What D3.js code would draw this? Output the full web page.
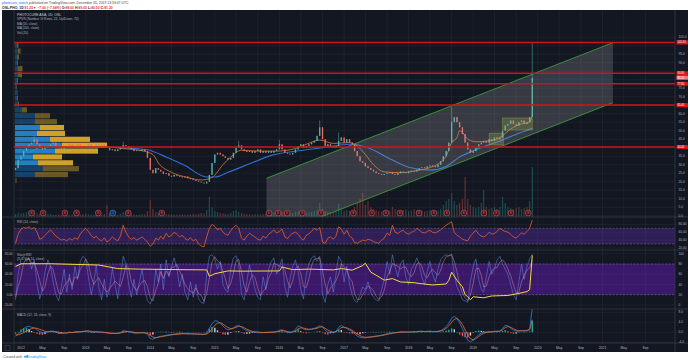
<!DOCTYPE html>
<html><head><meta charset="utf-8">
<script src="https://cdn.jsdelivr.net/npm/d3@7"></script>
<style>
html,body{margin:0;padding:0;background:#fff;}
svg{display:block;font-family:"Liberation Sans",Arial,sans-serif;}
</style></head><body>
<svg id="c" width="690" height="360"></svg>
<script>
// ---------------- DATA (semi-monthly bars, Dec 2011 .. Dec 2019) ----------------
const startYear = 2011, startMonth = 11;   // first bar: 1 Dec 2011, then 16th / 1st alternately
const firstOpen = 27;
const closes = [
28,33,35,38,40,42,43,45,42,40,
39,40,41,42,43,41,40,39,40,41,
42,40,41,42,41,40,41,42,40,41,
42,41,42,41,40,38.5,39,38,39,40,
41.5,41,40,39,38,38.5,38,39,38,34,
27,25,28,27,26,24.5,25,23.5,23,24,
23.5,23,22.5,23,22,21.5,21,20.5,20,19.5,
19,20,24,31,36,37,36,35,34,33,
34,37,40,41.5,39,38,37.5,38,37,38,
39,37,38,37,38,37,38,39,42,39,
37,36.5,36,37,39,41,42,40,41,42,
43,44,47,52,45,41,42,41,40,41,
44,46,43,45,43,42,38,35,32,31,
29,28,27,26,25,24.5,24,24.5,25,25.5,
24.5,24,25,26,25.5,25,26,26.5,26,27,
28,28.5,28,29,29.5,29,28.5,30,32,35,
38,43,55,58,55,52,48,43,39,37,
38,40,42,43,44,43,45,44,46,45,
46,50,53,54,56,54,53,55,56,54,
55,58,81];
const spikeIdx  = [7, 40, 83, 98, 113, 120, 162, 192];
const spikeHigh = [47, 43.5, 44, 44.5, 56, 49, 64, 102];

const volumeK = [
150,220,180,200,250,300,200,350,220,150,
120,130,160,140,120,110,130,100,90,110,
100,120,90,110,130,150,180,140,120,100,
110,130,120,150,600,200,140,120,110,160,
250,180,130,120,110,100,120,130,150,300,
850,400,250,200,180,160,150,140,130,120,
120,110,130,120,110,130,150,140,160,200,
180,350,1000,500,300,250,200,180,160,150,
200,300,350,250,200,160,150,140,130,150,
140,130,150,160,140,180,200,220,350,250,
180,160,170,200,260,300,250,200,220,240,
260,300,350,700,400,300,260,250,240,300,
650,400,300,350,300,280,500,700,900,1200,
600,800,500,400,350,300,280,300,350,320,
500,400,320,300,350,380,300,320,400,350,
300,320,280,300,350,300,280,320,400,600,
800,900,1200,800,600,700,900,2000,900,600,
500,450,500,700,1350,500,400,450,500,400,
500,1000,700,500,450,400,450,500,400,450,
500,800,2500];

const ma50Idx = [5,10,15,20,25,30,35,40,46,51,53,58,64,69,73,77,80,84,90,97,104,108,113,118,124,127,130,133,137,143,148,154,158,160,162,164,165,166,168,171,176,180,184,188,191,192];
const ma50Val = [37,40.5,41,40.5,41,41,40.5,39.5,38.5,36,31,25.5,22.5,21,22.5,30,34.5,38.5,38,38,39.5,42,44.5,42.5,43,41,36,30,25.8,25.3,26.3,28.3,31.5,35,43,46,50,49,45,43.5,44,46,51,54,55,59];
const ma200Idx = [19,25,34,44,49,56,63,71,74,79,87,95,105,114,124,131,139,146,154,160,165,172,180,187,192];
const ma200Val = [40.5,40.6,40.3,39.5,38.8,34.5,29.5,22.8,22.8,25.5,30.5,35.5,38.2,40,42,40,33.5,28.5,26.8,29,34.5,39.5,44,48.5,51.5];

// Volume profile, 24 rows from the lowest to the highest price (thousand shares)
const vpRange = [19, 102];
const vpUp   = [10,200,280,230,180,400,470,350,220,250,200,200,70,30,20,20,15,20,30,25,20,20,30,20];
const vpDown = [5,330,360,350,290,430,450,400,280,240,220,150,50,10,10,5,5,10,40,50,10,20,25,15];
const vpValueArea = [3, 9], vpPoc = 6;

const hLevels = [101.95, 83.80, 77.60, 65.05, 40.40];
const lastPrice = 81.20;

const channelDates = ["2015-10-20", "2021-03-01"];
const channelUpper = [22.0, 101.8];
const channelWidth = 35.3;

const boxDates  = [["2019-04-01","2019-06-20"], ["2019-06-15","2019-12-01"]];
const boxPrices = [[41.6, 48.6], [50.4, 57.5]];

const earningsDates = ["2012-03-01","2012-05-05","2012-09-05","2012-11-10","2013-03-13","2013-08-30","2014-03-07",
 "2015-11-04","2015-12-25","2016-02-14","2016-05-09","2016-08-23","2017-02-22","2017-06-06","2017-08-25","2017-11-12",
 "2018-03-01","2018-05-23","2018-08-05","2018-11-09","2019-03-02","2019-05-12","2019-08-02","2019-11-08"];
const dividendDates = ["2013-06-03"];

const rsi = [
32,55,68,72,70,74,68,72,60,42,
45,52,60,66,58,50,45,40,42,38,
44,40,46,42,55,64,70,62,52,45,
50,42,38,46,35,40,48,42,38,50,
78,60,48,42,46,40,44,48,42,35,
24,30,45,40,50,42,57,48,52,60,
55,48,52,44,40,46,38,42,30,25,
23,48,70,80,75,66,70,60,55,52,
64,72,78,70,45,40,50,57,52,48,
42,40,50,45,55,60,66,58,62,68,
48,44,52,57,60,55,45,40,52,56,
62,70,65,72,35,32,45,48,42,50,
74,68,55,65,50,45,34,32,36,40,
38,42,40,36,34,32,40,45,58,52,
78,60,57,62,65,58,55,60,62,70,
66,60,58,62,65,60,58,62,66,72,
78,82,87,60,52,48,42,40,38,50,
58,65,55,50,48,52,60,55,57,62,
70,65,62,60,55,48,45,52,58,55,
62,70,91];

const stochK = [
10,60,90,95,85,92,70,88,40,12,30,65,88,75,45,20,8,35,70,25,
60,30,75,50,85,95,90,55,20,45,78,35,10,50,15,30,72,40,12,55,
95,80,40,15,50,20,45,70,30,8,2,15,70,45,80,30,88,55,75,92,
70,35,60,25,10,45,15,40,12,5,3,60,95,98,90,70,85,40,30,25,
70,92,96,80,20,10,45,78,55,30,15,10,55,30,70,85,92,60,75,90,
35,15,50,75,88,65,30,12,60,80,92,96,85,95,20,5,40,55,25,60,
95,85,45,75,40,20,8,5,20,35,30,45,25,15,10,8,30,50,85,60,
98,75,55,80,88,55,40,70,78,92,80,55,40,65,85,60,45,70,88,95,
98,96,99,60,35,25,10,8,5,45,75,90,50,30,25,55,85,60,70,88,
95,80,70,60,40,20,10,45,80,50,75,90,99];
const stochD = [
15,35,55,82,90,90,82,83,66,47,27,36,61,76,69,47,24,21,38,43,
52,38,55,52,70,77,90,80,55,40,48,53,41,32,25,32,39,47,41,36,
54,77,72,45,35,28,38,45,48,36,13,8,29,43,65,52,66,58,73,74,
79,66,55,40,32,27,23,33,22,19,7,23,53,84,94,86,82,65,52,32,
42,62,86,89,65,37,25,44,59,54,33,18,27,32,52,62,82,79,76,75,
67,47,33,47,71,76,61,36,34,51,77,89,91,92,67,40,22,33,40,47,
60,80,75,68,53,45,23,11,11,20,28,37,33,28,17,11,16,29,55,65,
81,78,76,70,74,74,61,55,63,80,83,76,58,53,63,70,63,58,68,84,
94,96,98,85,65,40,23,14,8,19,42,70,72,57,35,37,55,67,72,73,
84,88,82,70,57,40,23,25,45,58,68,72,88];

// yellow oscillator drawn against the left scale of the Stoch pane
const yellowIdx = [0,2,13,31,35,38,46,61,71,72,74,79,84,98,99,103,109,118,121,125,129,130,132,134,137,140,143,148,150,155,160,161,162,164,166,167,168,169,170,174,177,183,187,190,191,192];
const yellowVal = [55,60.5,60.5,58,54,51,50,49,48.5,36,41,46.5,46,46.5,54,49,50,48.5,51,48,57,61.5,44,38,28.5,31.5,25,23.5,22,19,21,28,44,28,15.5,0,-4,-10,-4,-6,-2.5,-1.5,2.5,6,10,77];

const macd = [
-1.5,-0.8,0.5,1.5,2.2,2.4,2.0,1.8,1.0,0.3,
-0.2,-0.3,0.2,0.5,0.4,0.0,-0.4,-0.5,-0.3,-0.2,
0.1,-0.1,0.2,0.3,0.2,0.4,0.6,0.5,0.1,0.0,
0.2,0.1,0.0,-0.1,-0.3,-0.5,-0.4,-0.5,-0.4,-0.1,
0.6,0.5,0.2,0.0,-0.3,-0.3,-0.2,-0.1,-0.2,-0.8,
-2.5,-2.8,-2.2,-1.8,-1.6,-1.4,-1.2,-1.0,-0.9,-0.7,
-0.6,-0.5,-0.5,-0.5,-0.6,-0.6,-0.7,-0.7,-0.8,-0.8,
-0.8,-0.4,1.5,3.5,4.6,4.5,3.6,2.5,1.6,1.0,
1.2,1.8,2.5,2.8,2.0,1.2,0.6,0.3,0.1,0.0,
0.0,-0.2,-0.1,0.0,0.0,0.1,0.1,0.3,0.8,1.0,
0.4,0.0,-0.2,0.2,1.2,2.6,2.2,1.4,1.0,1.1,
1.3,1.6,2.0,2.6,2.2,0.8,0.0,0.0,-0.2,0.4,
2.0,2.8,2.0,1.5,0.8,0.4,-0.6,-1.5,-2.0,-2.2,
-2.2,-2.0,-1.8,-1.6,-1.5,-1.3,-1.1,-0.9,-0.6,-0.4,
-0.2,-0.1,0.0,0.2,0.2,0.1,0.1,0.2,0.2,0.3,
0.4,0.4,0.3,0.4,0.4,0.3,0.3,0.4,0.7,1.3,
2.3,3.6,5.6,6.4,5.6,3.8,1.5,-1.0,-3.2,-3.8,
-3.2,-2.0,-1.0,-0.3,0.0,0.1,0.3,0.2,0.4,0.4,
0.5,1.5,2.8,2.6,1.6,0.8,0.4,0.5,0.7,0.6,
0.7,1.4,9.6];
const signal = [
-1.0,-1.0,-0.6,-0.1,0.5,1.1,1.5,1.7,1.6,1.2,
0.8,0.4,0.2,0.3,0.4,0.3,0.1,-0.2,-0.3,-0.3,
-0.1,-0.1,0.0,0.1,0.2,0.3,0.4,0.5,0.4,0.2,
0.2,0.1,0.1,0.0,-0.1,-0.3,-0.4,-0.4,-0.4,-0.3,
0.0,0.3,0.3,0.2,0.0,-0.2,-0.2,-0.2,-0.2,-0.4,
-1.2,-1.9,-2.2,-2.0,-1.8,-1.6,-1.4,-1.2,-1.0,-0.9,
-0.8,-0.7,-0.6,-0.6,-0.6,-0.6,-0.6,-0.7,-0.7,-0.8,
-0.8,-0.7,0.0,1.4,2.8,3.7,3.8,3.3,2.6,1.9,
1.5,1.6,2.0,2.4,2.3,1.8,1.2,0.8,0.4,0.2,
0.1,0.0,-0.1,-0.1,0.0,0.0,0.1,0.2,0.4,0.7,
0.6,0.3,0.1,0.1,0.5,1.4,1.8,1.7,1.4,1.2,
1.2,1.4,1.6,2.1,2.2,1.6,0.9,0.4,0.1,0.2,
1.0,1.9,2.0,1.8,1.3,0.8,0.1,-0.7,-1.3,-1.8,
-2.0,-2.0,-1.9,-1.8,-1.6,-1.5,-1.3,-1.1,-0.8,-0.6,
-0.4,-0.2,-0.1,0.0,0.1,0.1,0.1,0.1,0.2,0.2,
0.3,0.4,0.3,0.3,0.4,0.3,0.3,0.3,0.5,0.9,
1.6,2.6,4.0,5.2,5.5,4.7,3.1,1.0,-1.1,-2.5,
-3.0,-2.5,-1.7,-0.9,-0.4,-0.1,0.1,0.2,0.3,0.4,
0.4,1.0,1.9,2.3,2.0,1.4,0.9,0.6,0.6,0.6,
0.6,1.0,5.0];

// tick labels
const priceTicks = d3.range(0, 106, 5);
const rsiTicks = [80, 60, 40, 20];
const stochTicks = [100, 80, 60, 40, 20, 0];
const stochLeftTicks = [80, 60, 40, 20, 0, -20];
const macdTicks = [8, 4, 0, -4];
const tickYears = d3.range(2012, 2022);
const tickMonths = [["May", 4], ["Sep", 8]];

const headerUser = "photocure_watch";
const headerText = " published on TradingView.com, December 05, 2019 13:33:07 UTC";
const symbolLine = ["OSL:PHO, 1D ", "81.20\u25BC \u22127.00 (\u22127.94%) ", "O:", "88.00 ", "H:", "89.00 ", "L:", "80.50 ", "C:", "81.20"];
const mainLegend = ["PHOTOCURE ASA, 1D, OSL", "VPVR (Number Of Rows, 24, Up/Down, 70)", "MA (50, close)", "MA (200, close)", "Vol (20)"];

// ---------------- LAYOUT ----------------
const W = 690, H = 360, PL = 14, PR = 675;
const pMain = [10, 217], pRsi = [217, 250], pSt = [250, 309], pMacd = [309, 343];
const bg = "#131722", txt = "#b2b5be", gridC = "rgba(255,255,255,0.055)", sepC = "#363a45";
const svg = d3.select("#c");
svg.append("rect").attr("width", W).attr("height", H).attr("fill", "#fff");
svg.append("rect").attr("x", 2).attr("y", 10).attr("width", 686).attr("height", 342).attr("fill", bg);

const dates = closes.map((c, i) => new Date(startYear, startMonth + Math.floor(i / 2), i % 2 ? 16 : 1));
const x = d3.scaleTime().domain([new Date(2012, 0, 1), new Date(2021, 0, 1)]).range([21, 602.5]);
const yP = d3.scaleLinear().domain([0, 100]).range([215.7, 45.7]);
const yVol = d3.scaleLinear().domain([0, 2500]).range([217, 167]);
const yR = d3.scaleLinear().domain([30, 70]).range([244, 228.3]);
const yS = d3.scaleLinear().domain([20, 80]).range([294.7, 264]);
const yL = d3.scaleLinear().domain([0, 60]).range([294.7, 264]);
const yM = d3.scaleLinear().domain([0, 4]).range([332.3, 322.3]);
const pd = s => new Date(s + "T00:00:00");

const defs = svg.append("defs");
function clip(id, y0, y1) {
  defs.append("clipPath").attr("id", id).append("rect").attr("x", PL).attr("y", y0).attr("width", PR - PL).attr("height", y1 - y0);
  return svg.append("g").attr("clip-path", `url(#${id})`);
}

// grid
const gGrid = svg.append("g");
const xTickList = [];
tickYears.forEach(yv => {
  xTickList.push([String(yv), new Date(yv, 0, 1)]);
  tickMonths.forEach(([lab, m]) => xTickList.push([lab, new Date(yv, m, 1)]));
});
xTickList.forEach(([lab, d]) => {
  const xx = x(d);
  if (xx < PL || xx > PR) return;
  gGrid.append("line").attr("x1", xx).attr("x2", xx).attr("y1", 10).attr("y2", 343).attr("stroke", gridC).attr("stroke-width", 0.8);
  svg.append("text").attr("x", xx).attr("y", 349.2).attr("text-anchor", "middle").attr("font-size", 3.4).attr("fill", txt).text(lab);
});
priceTicks.forEach(v => gGrid.append("line").attr("x1", PL).attr("x2", PR).attr("y1", yP(v)).attr("y2", yP(v)).attr("stroke", gridC).attr("stroke-width", 0.8));
rsiTicks.forEach(v => gGrid.append("line").attr("x1", PL).attr("x2", PR).attr("y1", yR(v)).attr("y2", yR(v)).attr("stroke", gridC).attr("stroke-width", 0.8));
stochTicks.forEach(v => gGrid.append("line").attr("x1", PL).attr("x2", PR).attr("y1", yS(v)).attr("y2", yS(v)).attr("stroke", gridC).attr("stroke-width", 0.8));
macdTicks.forEach(v => gGrid.append("line").attr("x1", PL).attr("x2", PR).attr("y1", yM(v)).attr("y2", yM(v)).attr("stroke", gridC).attr("stroke-width", 0.8));

// ---------------- MAIN PANE ----------------
const gM = clip("cm", pMain[0], pMain[1]);
const opens = closes.map((c, i) => i ? closes[i - 1] : firstOpen);
const bw = 1.3;
// volume
gM.selectAll(".vol").data(volumeK).join("rect")
  .attr("x", (d, i) => x(dates[i]) - 0.6).attr("width", 1.2)
  .attr("y", d => yVol(d)).attr("height", d => 217 - yVol(d))
  .attr("fill", (d, i) => closes[i] >= opens[i] ? "rgba(38,166,154,0.38)" : "rgba(239,83,80,0.38)");

// moving averages
const maLine = (idx) => d3.line().x((d, k) => x(dates[idx[k]])).y(d => yP(d)).curve(d3.curveMonotoneX);
gM.append("path").attr("d", maLine(ma200Idx)(ma200Val)).attr("fill", "none").attr("stroke", "#2e6fd6").attr("stroke-width", 1.1);
gM.append("path").attr("d", maLine(ma50Idx)(ma50Val)).attr("fill", "none").attr("stroke", "#c8702e").attr("stroke-width", 0.9);

// volume profile
const rowH = (yP(vpRange[0]) - yP(vpRange[1])) / vpUp.length;
const vpRowPrice = d3.scaleLinear().domain([0, vpUp.length]).range(vpRange);
const vw = d3.scaleLinear().domain([0, 920]).range([0, 92]);
const vpX0 = 15;
vpUp.forEach((u, r) => {
  const inVA = r >= vpValueArea[0] && r <= vpValueArea[1];
  const y1 = yP(vpRowPrice(r + 1)) + 0.35;
  const h = rowH - 0.7;
  gM.append("rect").attr("x", vpX0).attr("y", y1).attr("width", vw(u)).attr("height", h)
    .attr("fill", inVA ? "rgba(38,150,228,0.82)" : "rgba(33,150,243,0.33)");
  gM.append("rect").attr("x", vpX0 + vw(u)).attr("y", y1).attr("width", vw(vpDown[r])).attr("height", h)
    .attr("fill", r === vpPoc ? "rgba(255,170,20,0.92)" : inVA ? "rgba(240,186,45,0.85)" : "rgba(251,192,45,0.38)");
});

// candles
const gC = gM.append("g");
closes.forEach((c, i) => {
  const o = opens[i];
  const k = spikeIdx.indexOf(i);
  const hi = Math.max(o, c, k >= 0 ? spikeHigh[k] : 0);
  const lo = Math.min(o, c);
  const up = c >= o;
  const col = up ? "#4db6a8" : "#ef6a66";
  const xx = x(dates[i]);
  gC.append("line").attr("x1", xx).attr("x2", xx).attr("y1", yP(hi)).attr("y2", yP(lo)).attr("stroke", col).attr("stroke-width", 0.5);
  const yt = yP(Math.max(o, c)), yb = yP(Math.min(o, c));
  gC.append("rect").attr("x", xx - bw / 2).attr("width", bw).attr("y", yt).attr("height", Math.max(0.6, yb - yt)).attr("fill", col);
});

// parallel channel
const cx0 = x(pd(channelDates[0])), cx1 = x(pd(channelDates[1]));
const chPoly = [[cx0, yP(channelUpper[0])], [cx1, yP(channelUpper[1])], [cx1, yP(channelUpper[1] - channelWidth)], [cx0, yP(channelUpper[0] - channelWidth)]];
gM.append("path").attr("d", d3.line()(chPoly) + "Z").attr("fill", "rgba(170,170,170,0.24)");
gM.append("line").attr("x1", chPoly[0][0]).attr("y1", chPoly[0][1]).attr("x2", chPoly[1][0]).attr("y2", chPoly[1][1]).attr("stroke", "#3d9a3d").attr("stroke-width", 0.9);
gM.append("line").attr("x1", chPoly[3][0]).attr("y1", chPoly[3][1]).attr("x2", chPoly[2][0]).attr("y2", chPoly[2][1]).attr("stroke", "#3d9a3d").attr("stroke-width", 0.9);

// rectangles
boxDates.forEach((bd, k) => {
  const x0 = x(pd(bd[0])), x1 = x(pd(bd[1]));
  gM.append("rect").attr("x", x0).attr("y", yP(boxPrices[k][1])).attr("width", x1 - x0).attr("height", yP(boxPrices[k][0]) - yP(boxPrices[k][1]))
    .attr("fill", "rgba(160,175,90,0.28)").attr("stroke", "rgba(150,180,60,0.7)").attr("stroke-width", 0.5);
});

// horizontal levels
hLevels.forEach(v => {
  gM.append("line").attr("x1", PL).attr("x2", PR).attr("y1", yP(v)).attr("y2", yP(v)).attr("stroke", "#c8161d").attr("stroke-width", 1.5);
});

// earnings / dividends
const gE = gM.append("g");
function marker(d, stroke, fill, letter) {
  const xx = x(pd(d));
  gE.append("circle").attr("cx", xx).attr("cy", 213).attr("r", 2.9).attr("fill", fill).attr("stroke", stroke).attr("stroke-width", 0.6);
  gE.append("text").attr("x", xx).attr("y", 214.2).attr("text-anchor", "middle").attr("font-size", 3.2).attr("fill", stroke).text(letter);
}
earningsDates.forEach(d => marker(d, "#e0525a", "#3a1820", "E"));
dividendDates.forEach(d => marker(d, "#3f8ee8", "#14294a", "D"));

// legend
mainLegend.forEach((t, k) => {
  svg.append("text").attr("x", 17).attr("y", 15.6 + k * 4.5).attr("font-size", k ? 3.2 : 3.4)
    .attr("fill", k ? txt : "#d1d4dc").text(t);
});

// ---------------- RSI ----------------
const gR = clip("cr", pRsi[0], pRsi[1]);
gR.append("rect").attr("x", PL).attr("width", PR - PL).attr("y", yR(70)).attr("height", yR(30) - yR(70)).attr("fill", "rgba(110,50,200,0.32)");
[70, 30].forEach(v => gR.append("line").attr("x1", PL).attr("x2", PR).attr("y1", yR(v)).attr("y2", yR(v)).attr("stroke", "rgba(200,200,210,0.45)").attr("stroke-width", 0.6).attr("stroke-dasharray", "2,1.5"));
gR.append("path").attr("d", d3.line().x((d, i) => x(dates[i])).y(d => yR(d))(rsi)).attr("fill", "none").attr("stroke", "#e8602a").attr("stroke-width", 0.8);
svg.append("text").attr("x", 17).attr("y", 222.5).attr("font-size", 3.2).attr("fill", txt).text("RSI (14, close)");

// ---------------- STOCH ----------------
const gS = clip("cs", pSt[0], pSt[1]);
gS.append("rect").attr("x", PL).attr("width", PR - PL).attr("y", yS(80)).attr("height", yS(20) - yS(80)).attr("fill", "rgba(120,30,215,0.40)");
[80, 20].forEach(v => gS.append("line").attr("x1", PL).attr("x2", PR).attr("y1", yS(v)).attr("y2", yS(v)).attr("stroke", "rgba(200,200,210,0.45)").attr("stroke-width", 0.6).attr("stroke-dasharray", "2,1.5"));
const sLine = d3.line().x((d, i) => x(dates[i])).y(d => yS(d));
gS.append("path").attr("d", sLine(stochK)).attr("fill", "none").attr("stroke", "rgba(90,150,240,0.8)").attr("stroke-width", 0.6);
gS.append("path").attr("d", sLine(stochD)).attr("fill", "none").attr("stroke", "rgba(235,150,160,0.75)").attr("stroke-width", 0.6);
gS.append("path").attr("d", d3.line().x((d, k) => x(dates[yellowIdx[k]])).y(d => yL(d))(yellowVal)).attr("fill", "none").attr("stroke", "#f2dc3a").attr("stroke-width", 1);
svg.append("text").attr("x", 17).attr("y", 255.5).attr("font-size", 3.2).attr("fill", txt).text("Stoch RSI");
svg.append("text").attr("x", 17).attr("y", 259.8).attr("font-size", 3.2).attr("fill", txt).text("(3, 3, 14, 14, close)");
stochLeftTicks.forEach(v => svg.append("text").attr("x", 12.5).attr("y", yL(v) + 1.1).attr("text-anchor", "end").attr("font-size", 3).attr("fill", txt).text(v.toFixed(2)));

// ---------------- MACD ----------------
const gD = clip("cd", pMacd[0], pMacd[1]);
const hist = macd.map((m, i) => m - signal[i]);
gD.selectAll(".h").data(hist).join("rect")
  .attr("x", (d, i) => x(dates[i]) - 0.7).attr("width", 1.4)
  .attr("y", d => Math.min(yM(0), yM(d))).attr("height", d => Math.max(0.3, Math.abs(yM(d) - yM(0))))
  .attr("fill", (d, i) => {
    const prev = i ? hist[i - 1] : 0;
    if (d >= 0) return d >= prev ? "#26a69a" : "#b2dfdb";
    return d < prev ? "#ef5350" : "#ffcdd2";
  });
const mLine = d3.line().x((d, i) => x(dates[i])).y(d => yM(d));
gD.append("path").attr("d", mLine(macd)).attr("fill", "none").attr("stroke", "#2f7fe0").attr("stroke-width", 0.8);
gD.append("path").attr("d", mLine(signal)).attr("fill", "none").attr("stroke", "#e8702a").attr("stroke-width", 0.8);
svg.append("text").attr("x", 17).attr("y", 316).attr("font-size", 3.2).attr("fill", txt).text("MACD (12, 26, close, 9)");

// ---------------- SEPARATORS & AXES ----------------
[217, 250, 309, 343].forEach(yy => svg.append("line").attr("x1", 2).attr("x2", 688).attr("y1", yy).attr("y2", yy).attr("stroke", sepC).attr("stroke-width", 0.8));
svg.append("line").attr("x1", PR).attr("x2", PR).attr("y1", 10).attr("y2", 352).attr("stroke", sepC).attr("stroke-width", 0.8);
svg.append("line").attr("x1", PL).attr("x2", PL).attr("y1", 10).attr("y2", 352).attr("stroke", sepC).attr("stroke-width", 0.6);
svg.append("rect").attr("x", 5).attr("y", 345.5).attr("width", 5).attr("height", 5).attr("fill", "none").attr("stroke", "#50535e").attr("stroke-width", 0.5);

const axT = (yy, s) => svg.append("text").attr("x", 678.5).attr("y", yy + 1.1).attr("font-size", 3.2).attr("fill", txt).text(s);
const labelYs = hLevels.map(v => yP(v)).concat([yP(lastPrice)]);
priceTicks.forEach(v => { if (labelYs.every(ly => Math.abs(ly - yP(v)) > 4.2)) axT(yP(v), v.toFixed(1)); });
rsiTicks.forEach(v => axT(yR(v), v.toFixed(2)));
stochTicks.forEach(v => axT(yS(v), String(v)));
macdTicks.forEach(v => axT(yM(v), v.toFixed(1)));

function priceLabel(v, fill) {
  svg.append("rect").attr("x", 676.5).attr("y", yP(v) - 2.05).attr("width", 11.5).attr("height", 4.1).attr("rx", 0.5).attr("fill", fill);
  svg.append("text").attr("x", 677.4).attr("y", yP(v) + 1.0).attr("font-size", 2.8).attr("fill", "#fff").text(v.toFixed(2));
}
hLevels.forEach(v => priceLabel(v, "#d8141c"));
priceLabel(lastPrice, "#e8787a");

// ---------------- HEADER / FOOTER ----------------
const h1 = svg.append("text").attr("x", 2).attr("y", 4).attr("font-size", 3.4).attr("fill", "#444");
h1.append("tspan").attr("fill", "#2962ff").text(headerUser);
h1.append("tspan").text(headerText);
const h2 = svg.append("text").attr("x", 2).attr("y", 8.6).attr("font-size", 3.4).attr("font-weight", "bold").attr("fill", "#222");
symbolLine.forEach((s, k) => h2.append("tspan").attr("fill", (k % 2 === 1) ? "#e53935" : "#222").text(s));

const f = svg.append("text").attr("x", 3).attr("y", 357.5).attr("font-size", 3.4).attr("fill", "#555");
f.append("tspan").text("Created with ");
f.append("tspan").attr("fill", "#2196f3").attr("dx", 4.5).text("TradingView");
svg.append("path").attr("d", "M23.6,357.6 l1.4,-2.4 l1,1.4 l1.4,-2 l1.2,3 z").attr("fill", "#2196f3");
</script>
</body></html>
